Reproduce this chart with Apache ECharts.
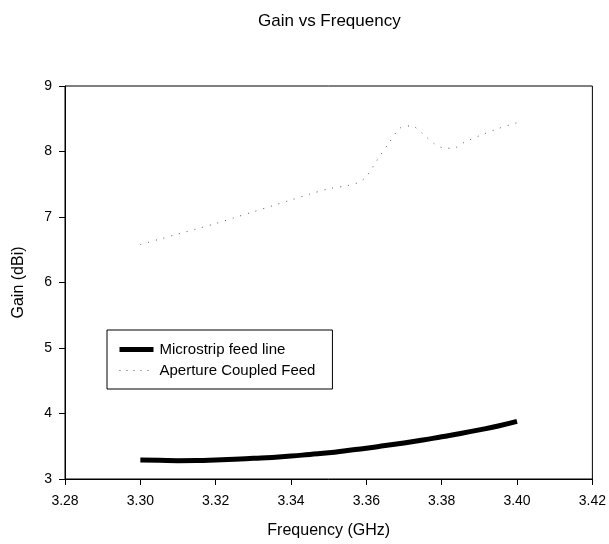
<!DOCTYPE html>
<html><head><meta charset="utf-8">
<script src="https://cdn.jsdelivr.net/npm/echarts@6/dist/echarts.min.js"></script>
<style>html,body{margin:0;padding:0;background:#fff}#c{width:609px;height:544px}</style>
</head><body><div id="c"></div>
<script>
const title = 'Gain vs Frequency';
const xTicks = [3.28, 3.30, 3.32, 3.34, 3.36, 3.38, 3.40, 3.42];
const yTicks = [3, 4, 5, 6, 7, 8, 9];
const microFreq = [3.300, 3.305, 3.310, 3.315, 3.320, 3.325, 3.330, 3.335, 3.340, 3.345, 3.350, 3.355, 3.360, 3.365, 3.370, 3.375, 3.380, 3.385, 3.390, 3.395, 3.400];
const microGain = [3.29, 3.285, 3.28, 3.282, 3.29, 3.30, 3.315, 3.33, 3.35, 3.375, 3.40, 3.435, 3.47, 3.51, 3.55, 3.595, 3.645, 3.695, 3.75, 3.81, 3.88];
const apertureFreq = [3.300, 3.305, 3.310, 3.315, 3.320, 3.325, 3.330, 3.335, 3.340, 3.345, 3.350, 3.355, 3.358, 3.360, 3.363, 3.366, 3.369, 3.372, 3.375, 3.378, 3.381, 3.383, 3.386, 3.390, 3.395, 3.400];
const apertureGain = [6.58, 6.66, 6.74, 6.82, 6.90, 6.99, 7.08, 7.17, 7.26, 7.35, 7.43, 7.48, 7.53, 7.62, 7.88, 8.13, 8.36, 8.39, 8.27, 8.12, 8.05, 8.05, 8.14, 8.24, 8.35, 8.44];

const font = '"Liberation Sans", Arial, sans-serif';
const chart = echarts.init(document.getElementById('c'), null, {renderer: 'canvas'});
chart.setOption({
  animation: false,
  backgroundColor: '#fff',
  title: {text: title, left: 253, top: 8, textStyle: {fontFamily: font, fontSize: 17, fontWeight: 'normal', color: '#000'}},
  grid: {left: 65, right: 16, top: 86, bottom: 65, show: true, borderColor: '#000', borderWidth: 1, backgroundColor: 'transparent'},
  legend: {
    left: 107, top: 330, orient: 'vertical',
    borderColor: '#000', borderWidth: 1, padding: [12, 17, 11, 10],
    itemWidth: 34, itemHeight: 14, itemGap: 6,
    itemStyle: {color: 'rgba(0,0,0,0)', borderWidth: 0, opacity: 0},
    textStyle: {fontFamily: font, fontSize: 15, color: '#000', padding: [0, 0, 0, 1]},
    data: [
      {name: 'Microstrip feed line', lineStyle: {width: 5, color: '#000'}},
      {name: 'Aperture Coupled Feed', lineStyle: {width: 1, color: '#555', type: [1, 6]}}
    ]
  },
  xAxis: {
    type: 'value', min: xTicks[0], max: xTicks[xTicks.length - 1], interval: 0.02,
    name: 'Frequency (GHz)', nameLocation: 'middle', nameGap: 44,
    nameTextStyle: {fontFamily: font, fontSize: 16, color: '#000'},
    axisLine: {lineStyle: {color: '#000', width: 1}},
    axisTick: {show: true, length: 6, lineStyle: {color: '#000'}},
    axisLabel: {fontFamily: font, fontSize: 14, color: '#000', margin: 15, formatter: v => v.toFixed(2)},
    splitLine: {show: false}
  },
  yAxis: {
    type: 'value', min: yTicks[0], max: yTicks[yTicks.length - 1], interval: 1,
    name: 'Gain (dBi)', nameLocation: 'middle', nameGap: 38,
    nameTextStyle: {fontFamily: font, fontSize: 16, color: '#000'},
    axisLine: {lineStyle: {color: '#000', width: 1}},
    axisTick: {show: true, length: 6, lineStyle: {color: '#000'}},
    axisLabel: {fontFamily: font, fontSize: 14, color: '#000', margin: 13},
    splitLine: {show: false}
  },
  series: [
    {name: 'Microstrip feed line', type: 'line', smooth: true, symbol: 'none',
     lineStyle: {color: '#000', width: 5},
     itemStyle: {color: '#000'},
     data: microFreq.map((f, i) => [f, microGain[i]])},
    {name: 'Aperture Coupled Feed', type: 'line', smooth: 0.3, symbol: 'none',
     lineStyle: {color: '#555', width: 1, type: [1, 7]},
     itemStyle: {color: '#555'},
     data: apertureFreq.map((f, i) => [f, apertureGain[i]])}
  ]
});
</script></body></html>
